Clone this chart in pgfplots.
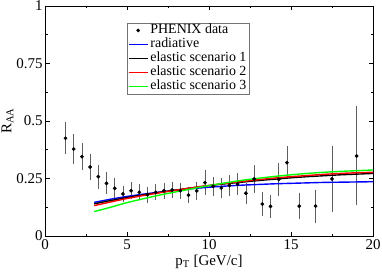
\documentclass[border=0pt]{standalone}
\usepackage{fontspec}
\setmainfont{Liberation Serif}
\usepackage{pgfplots}
\pgfplotsset{compat=1.18}
\definecolor{errgray}{RGB}{95,95,95}
\tikzset{lg/.style={inner ysep=0pt, text height=10pt, text depth=4pt}}
\begin{document}
\begin{tikzpicture}
\begin{axis}[name=ax,
  scale only axis, width=328bp, height=230bp,
  xmin=0, xmax=20, ymin=0, ymax=1,
  xtick={0,5,10,15,20}, ytick={0,0.25,0.5,0.75,1},
  yticklabels={0,0.25,0.5,0.75,1},
  minor x tick num=1, minor y tick num=1,
  tick align=inside, tick pos=both,
  major tick length=4.5bp, minor tick length=2.5bp,
  axis line style={line width=0.8pt},
  every tick/.style={black, line width=0.6pt},
  /pgf/number format/assume math mode=true,
  ticklabel style={font=\fontsize{15}{16}\selectfont},
  yticklabel style={xshift=1bp},
  label style={font=\fontsize{15}{16}\selectfont},
  xlabel={p\textsubscript{T} [GeV/c]},
  ylabel={R\textsubscript{AA}},
  xlabel style={yshift=1.5bp},
  ylabel style={yshift=-4bp},
  legend image code/.code={\draw[#1] (0bp,0bp) -- (19bp,0bp);},
  legend style={at={(0.251,0.927)}, anchor=north west, draw=gray!90!black,
    font=\fontsize{14}{14}\selectfont, inner sep=0.5pt, row sep=0pt,
    legend cell align=left},
]
\addlegendimage{legend image code/.code={\fill[black] (9.5bp,0bp) circle[radius=1.7pt];}}
\addlegendentry[lg]{PHENIX data}
\addplot[forget plot, only marks, mark=*, mark size=1.7pt, black,
  error bars/.cd, y dir=both, y explicit,
  error bar style={errgray, line width=0.6pt},
  error mark options={errgray, mark size=3.5pt, line width=0.6pt}]
  table[x=x, y=y, y error=e] {
x y e
1.25 0.425 0.055
1.75 0.378 0.050
2.25 0.345 0.045
2.75 0.300 0.040
3.25 0.258 0.037
3.75 0.229 0.032
4.25 0.207 0.032
4.75 0.183 0.020
5.25 0.197 0.022
5.75 0.190 0.020
6.25 0.180 0.020
6.75 0.190 0.020
7.25 0.197 0.020
7.75 0.200 0.020
8.25 0.197 0.020
8.75 0.178 0.020
9.25 0.196 0.025
9.75 0.232 0.038
10.25 0.216 0.025
10.75 0.209 0.030
11.25 0.220 0.030
11.75 0.226 0.033
12.25 0.186 0.030
12.75 0.248 0.044
13.25 0.139 0.036
13.75 0.129 0.035
14.25 0.246 0.055
14.75 0.319 0.055
15.5 0.130 0.040
16.5 0.130 0.057
17.5 0.248 0.130
19.0 0.348 0.200
};
\addplot[blue, line width=1.4pt, smooth] coordinates {
(3,0.146)(4,0.160)(5,0.172)(6,0.182)(7,0.191)(8,0.199)(9,0.206)(10,0.212)(11,0.217)(12,0.221)(13,0.224)(14,0.227)(15,0.229)(16,0.231)(17,0.233)(18,0.234)(19,0.235)(20,0.236)};
\addlegendentry[lg]{radiative}
\addplot[black, line width=1.4pt, smooth] coordinates {
(3,0.140)(4,0.154)(5,0.167)(6,0.179)(7,0.190)(8,0.200)(9,0.210)(10,0.219)(11,0.227)(12,0.234)(13,0.241)(14,0.247)(15,0.253)(16,0.258)(17,0.262)(18,0.266)(19,0.269)(20,0.272)};
\addlegendentry[lg]{elastic scenario 1}
\addplot[red, line width=1.4pt, smooth] coordinates {
(3,0.132)(4,0.148)(5,0.163)(6,0.176)(7,0.188)(8,0.199)(9,0.210)(10,0.220)(11,0.229)(12,0.237)(13,0.245)(14,0.252)(15,0.258)(16,0.263)(17,0.268)(18,0.272)(19,0.275)(20,0.277)};
\addlegendentry[lg]{elastic scenario 2}
\addplot[green, line width=1.4pt, smooth] coordinates {
(3,0.106)(4,0.125)(5,0.145)(6,0.162)(7,0.178)(8,0.192)(9,0.206)(10,0.219)(11,0.231)(12,0.242)(13,0.251)(14,0.259)(15,0.266)(16,0.272)(17,0.277)(18,0.281)(19,0.284)(20,0.287)};
\addlegendentry[lg]{elastic scenario 3}
\end{axis}
\pgfresetboundingbox
\path[use as bounding box] ([shift={(-45bp,-36bp)}]ax.south west) rectangle ([shift={(9bp,6bp)}]ax.north east);
\end{tikzpicture}
\end{document}
